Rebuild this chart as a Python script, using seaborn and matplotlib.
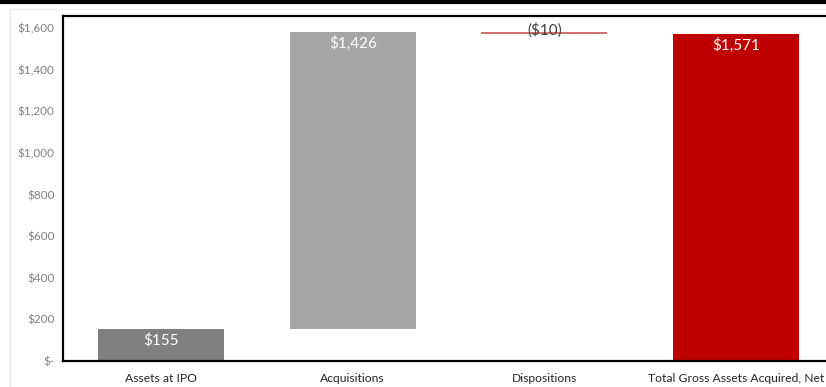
import matplotlib
matplotlib.use("Agg")
import matplotlib.pyplot as plt
from matplotlib.lines import Line2D
import seaborn as sns
import numpy as np

categories = ["Assets at IPO", "Acquisitions", "Dispositions", "Total Gross Assets Acquired, Net"]
changes = [155, 1426, -10, 1571]
is_total = [False, False, False, True]
labels = ["$155", "$1,426", "($10)", "$1,571"]
bar_colors = ["#808080", "#A6A6A6", "#D07070", "#C00000"]
label_colors = ["white", "white", "#404040", "white"]
yticks = [0, 200, 400, 600, 800, 1000, 1200, 1400, 1600]

# waterfall geometry from the changes
bases, heights = [], []
running = 0
for c, tot in zip(changes, is_total):
    if tot:
        bases.append(0); heights.append(c); running = c
    else:
        new = running + c
        bases.append(min(running, new)); heights.append(abs(c)); running = new
bases = np.array(bases); heights = np.array(heights)

sns.set_style("white")
plt.rcParams["font.family"] = ["Lato", "DejaVu Sans"]

fig = plt.figure(figsize=(8.26, 3.87), dpi=100)
ax = fig.add_axes([63/826, 26/387, (826-63)/826, 345/387])

sns.barplot(x=categories, y=heights, bottom=bases, width=0.657, color="#808080",
            ax=ax, linewidth=0)
for p, col in zip(ax.patches, bar_colors):
    p.set_facecolor(col)
    p.set_edgecolor("none")

ax.set_xlim(-0.511, 3.469)
ax.set_ylim(0, 1658)
ax.set_yticks(yticks)
ax.set_yticklabels(["$-" if v == 0 else f"${v:,}" for v in yticks])
ax.tick_params(axis="y", colors="#808080", labelsize=8.5, length=0, pad=6)
ax.tick_params(axis="x", colors="#262626", labelsize=8.7, length=0, pad=9)
for s in ["left", "bottom", "top"]:
    ax.spines[s].set_visible(True)
    ax.spines[s].set_color("black")
    ax.spines[s].set_linewidth(1.6)
ax.spines["right"].set_visible(False)
ax.set_xlabel(""); ax.set_ylabel("")

for i, (b, h, lab, lc) in enumerate(zip(bases, heights, labels, label_colors)):
    top = b + h
    if lc == "white":
        ax.annotate(lab, (i, top), xytext=(0, -3), textcoords="offset points",
                    ha="center", va="top", color=lc, fontsize=11)
    else:
        ax.annotate(lab, (i, top), xytext=(0, -4), textcoords="offset points",
                    ha="center", va="bottom", color=lc, fontsize=11)

# frame decorations
fig.add_artist(Line2D([0, 1], [1 - 1.5/387, 1 - 1.5/387], color="black", linewidth=3,
                      transform=fig.transFigure))
fig.add_artist(Line2D([10/826, 10/826], [0, 1 - 9/387], color="#E3E8EF", linewidth=1,
                      transform=fig.transFigure))
fig.add_artist(Line2D([10/826, 1], [1 - 9/387, 1 - 9/387], color="#EEF1F5", linewidth=1,
                      transform=fig.transFigure))

fig.savefig("out.png", dpi=100)
